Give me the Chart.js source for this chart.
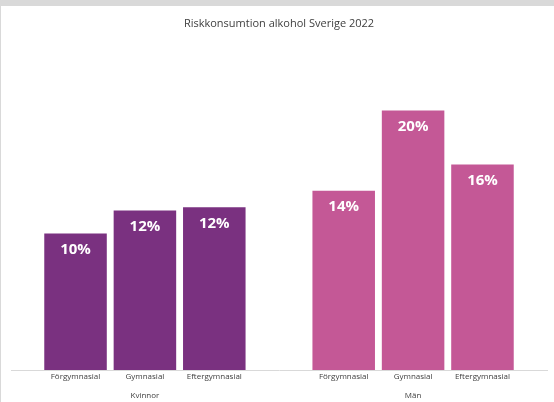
<!DOCTYPE html>
<html>
<head>
<meta charset="utf-8">
<script src="https://cdn.jsdelivr.net/npm/chart.js@4/dist/chart.umd.min.js"></script>
<style>
html, body { margin: 0; padding: 0; background: #fff; }
body { width: 554px; height: 402px; overflow: hidden; position: relative; }
.topband { position: absolute; left: 0; top: 0; width: 554px; height: 6px; background: #d9d9d9; }
.leftline { position: absolute; left: 0; top: 6px; width: 1px; height: 396px; background: #d9d9d9; }
.wrap { position: absolute; left: 1px; top: 6px; width: 553px; height: 396px; }
</style>
</head>
<body>
<div class="topband"></div>
<div class="leftline"></div>
<div class="wrap"><canvas id="chart"></canvas></div>
<script>
const groups = ["Kvinnor", "Män"];
const levels = ["Förgymnasial", "Gymnasial", "Eftergymnasial"];
const kvinnor = [10.45, 12.2, 12.45];
const man = [13.7, 19.8, 15.7];
const groupValues = [kvinnor, man];
const groupColors = ["#7a3180", "#c45896"];

// layout: distance between the first bar of each group, in bar units
const groupStep = 3.865;

const points = [];
const tickLabels = [];
const colors = [];
groups.forEach(function (g, gi) {
    levels.forEach(function (lvl, li) {
        points.push({ x: gi * groupStep + li, y: groupValues[gi][li] });
        tickLabels.push(lvl);
        colors.push(groupColors[gi]);
    });
});
const groupCenters = groups.map(function (g, gi) { return gi * groupStep + 1; });

const barLabels = {
    id: "barLabels",
    afterDatasetsDraw(chart) {
        const ctx = chart.ctx;
        const meta = chart.getDatasetMeta(0);
        ctx.save();
        ctx.fillStyle = "#ffffff";
        ctx.font = 'bold 15px "Open Sans"';
        ctx.textAlign = "center";
        ctx.textBaseline = "middle";
        meta.data.forEach(function (bar, i) {
            ctx.fillText(Math.round(points[i].y) + "%", bar.x, bar.y + 17);
        });
        ctx.restore();
    },
};

const ctx = document.getElementById("chart").getContext("2d");
const myChart = new Chart(ctx, {
    type: "bar",
    data: {
        datasets: [
            {
                data: points,
                backgroundColor: colors,
                borderColor: "rgba(255, 255, 255, 0.45)",
                borderWidth: 1,
                barPercentage: 0.93,
                categoryPercentage: 1,
            },
        ],
    },
    options: {
        responsive: true,
        maintainAspectRatio: false,
        animation: false,
        layout: { padding: { left: 10, right: 7, top: 0, bottom: 0 } },
        plugins: {
            legend: { display: false },
            tooltip: { enabled: false },
            title: {
                display: true,
                text: "Riskkonsumtion alkohol Sverige 2022",
                color: "#404040",
                font: { family: "Open Sans", size: 11, weight: "normal" },
                padding: { top: 11, bottom: 13 },
            },
        },
        scales: {
            x: {
                type: "linear",
                min: -0.93,
                max: 6.795,
                offset: false,
                weight: 0,
                grid: { display: false, drawTicks: false, offset: false },
                border: { display: true, color: "#d9d9d9", width: 1 },
                afterBuildTicks: function (axis) {
                    axis.ticks = points.map(function (p) { return { value: p.x }; });
                },
                afterFit: function (axis) { axis.height = 18; },
                ticks: {
                    autoSkip: false,
                    maxRotation: 0,
                    padding: 2,
                    color: "#404040",
                    font: { family: "Open Sans", size: 8 },
                    callback: function (value, index) { return tickLabels[index]; },
                },
            },
            x2: {
                type: "linear",
                position: "bottom",
                min: -0.93,
                max: 6.795,
                offset: false,
                weight: 1,
                grid: { display: false, drawTicks: false, offset: false },
                border: { display: false },
                afterBuildTicks: function (axis) {
                    axis.ticks = groupCenters.map(function (v) { return { value: v }; });
                },
                afterFit: function (axis) { axis.height = 14; },
                ticks: {
                    autoSkip: false,
                    maxRotation: 0,
                    padding: 3,
                    color: "#404040",
                    font: { family: "Open Sans", size: 8 },
                    callback: function (value, index) { return groups[index]; },
                },
            },
            y: {
                display: false,
                min: 0,
                max: 24.85,
            },
        },
    },
    plugins: [barLabels],
});
</script>
</body>
</html>
